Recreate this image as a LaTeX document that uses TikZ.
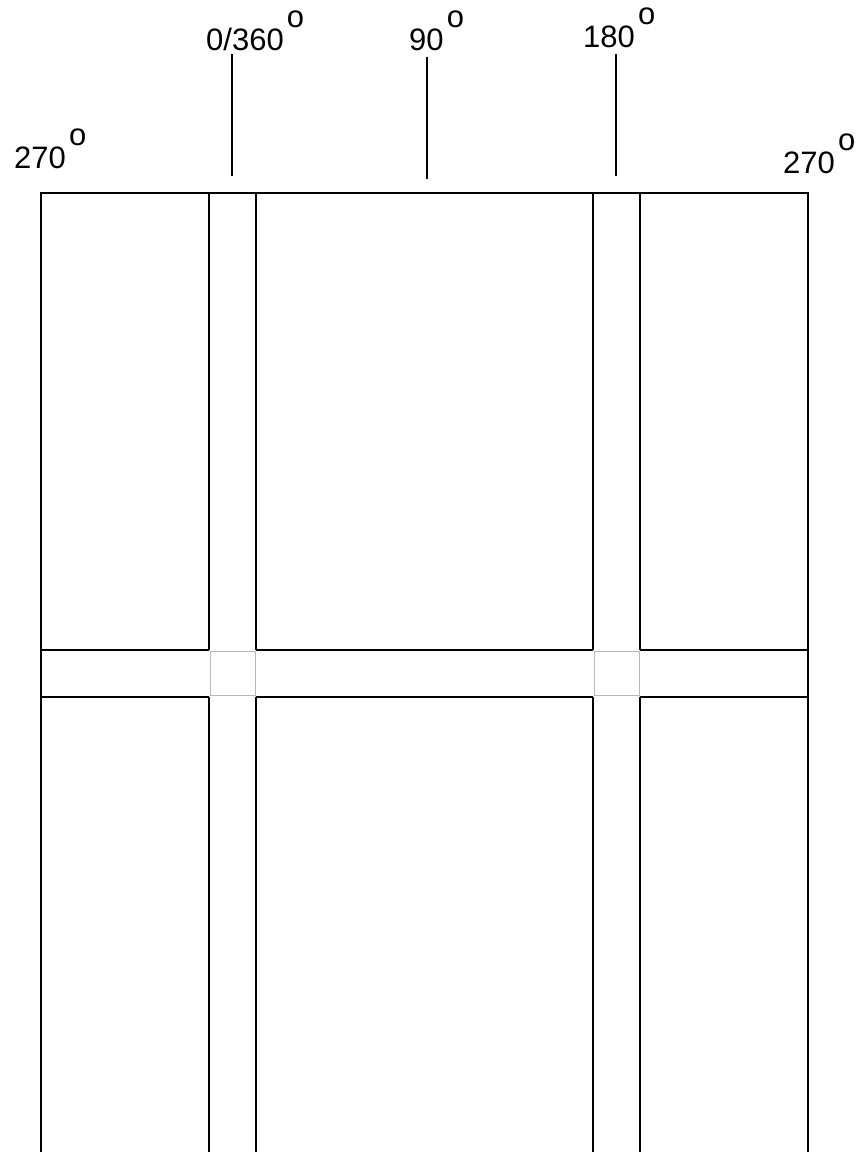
\documentclass[tikz,border=0pt]{standalone}
\usepackage{fontspec}
\setmainfont{Liberation Sans}
\usetikzlibrary{positioning}
\tikzset{
	wall/.style={draw=black, line width=2.5pt},
	joint/.style={draw=black!28, line width=1.5pt},
	tickline/.style={draw=black, line width=2.5pt},
	deg/.style={font=\fontsize{31}{37}\selectfont, inner sep=0pt, anchor=base west},
}
\newcommand{\degtext}[1]{#1\hspace{0.1em}\raisebox{0.72em}{o}}

\begin{document}
\begin{tikzpicture}[x=1pt, y=-1pt]
				\useasboundingbox (0,0) rectangle (865,1152);
				% angle labels
				\node[deg] at (14,168) (lwest) {\degtext{270}};
				\node[deg] at (206,50) (lzero) {\degtext{0/360}};
				\node[deg] at (409,50) (lninety) {\degtext{90}};
				\node[deg] at (583,47) (lhalf) {\degtext{180}};
				\node[deg] at (783,173) (least) {\degtext{270}};
				% ticks
				\coordinate (tz) at (232,54);
				\coordinate (tn) at (427,57);
				\coordinate (th) at (616,54);
				\draw[tickline] (tz) -- (232,176);
				\draw[tickline] (tn) -- (427,179);
				\draw[tickline] (th) -- (616,176);
				% outer frame
				\draw[wall] (41,1152) -- (41,193) -- (808,193) -- (808,1152);
				% strips
				\foreach \xx in {209,256,593,640} {
					\draw[wall] (\xx,193) -- (\xx,650);
					\draw[wall] (\xx,697) -- (\xx,1152);
				}
				\foreach \yy in {650,697} {
					\draw[wall] (41,\yy) -- (209,\yy);
					\draw[wall] (256,\yy) -- (593,\yy);
					\draw[wall] (640,\yy) -- (808,\yy);
				}
				% crossings
				\draw[joint] (210.5,651.5) rectangle (255.5,695.5);
				\draw[joint] (594.5,651.5) rectangle (639.5,695.5);
			\end{tikzpicture}
\end{document}
